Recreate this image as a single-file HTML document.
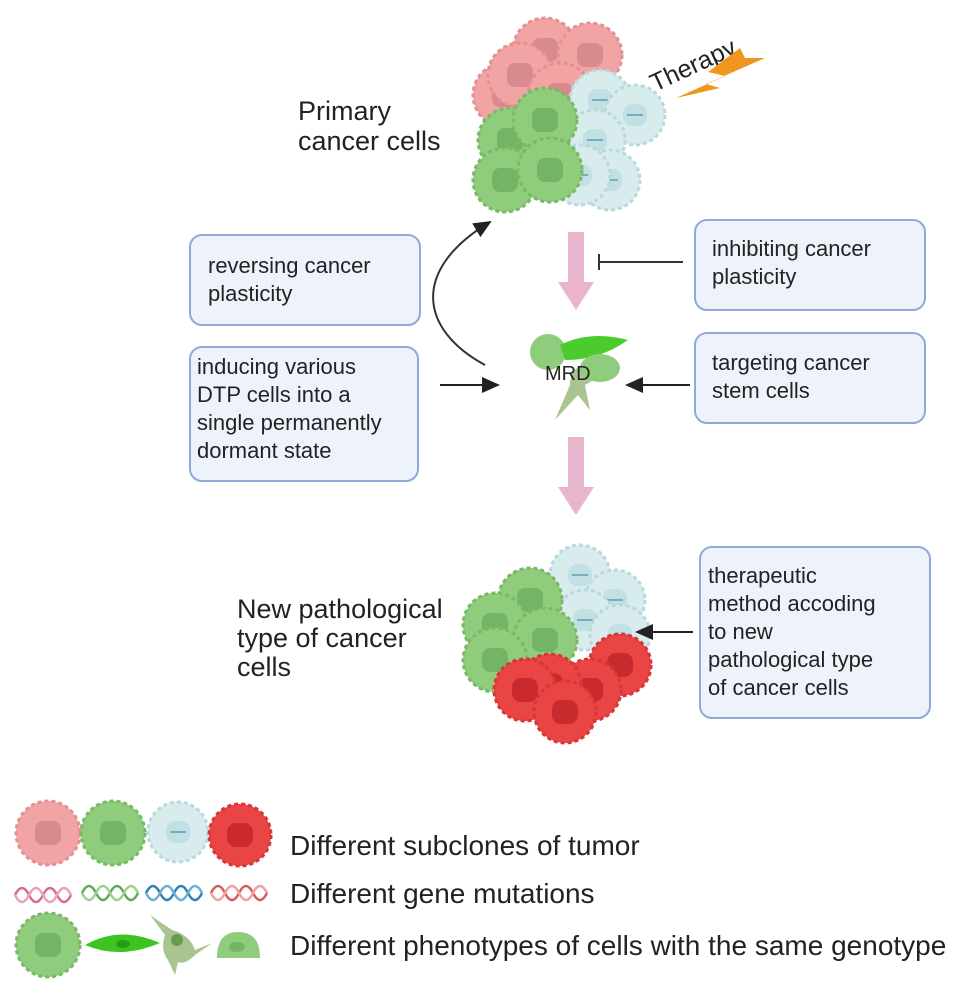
<!DOCTYPE html>
<html><head><meta charset="utf-8"><style>
body{margin:0;background:#fff}
svg text{font-family:"Liberation Sans",sans-serif;fill:#222}
</style></head><body>
<svg width="969" height="989" viewBox="0 0 969 989" xmlns="http://www.w3.org/2000/svg">
<defs>
<g id="pk"><circle r="32" fill="#f2a3a3" stroke="#e39090" stroke-width="3" stroke-dasharray="4 3"/><rect x="-13" y="-12" width="26" height="24" rx="8" fill="#d98a8e"/></g>
<g id="gr"><circle r="32" fill="#8fcc7c" stroke="#79b866" stroke-width="3" stroke-dasharray="4 3"/><rect x="-13" y="-12" width="26" height="24" rx="8" fill="#74b465"/></g>
<g id="bl"><circle r="30" fill="#d9eced" stroke="#b9d9dc" stroke-width="3" stroke-dasharray="4 3"/><rect x="-12" y="-11" width="24" height="22" rx="9" fill="#c2e0e3"/><line x1="-8" y1="0" x2="8" y2="0" stroke="#5a9fb0" stroke-width="1.5"/></g>
<g id="rd"><circle r="31" fill="#e94545" stroke="#d83535" stroke-width="3" stroke-dasharray="4 3"/><rect x="-13" y="-12" width="26" height="24" rx="9" fill="#c92a2e"/></g>
<marker id="ah" markerWidth="10" markerHeight="10" refX="8" refY="5" orient="auto"><path d="M0,1 L9,5 L0,9 Z" fill="#222"/></marker>
</defs>

<!-- top cluster -->
<use href="#pk" x="505" y="95"/><use href="#pk" x="545" y="50"/><use href="#pk" x="590" y="55"/><use href="#pk" x="520" y="75"/><use href="#pk" x="560" y="95"/>
<use href="#bl" x="600" y="100"/><use href="#bl" x="635" y="115"/><use href="#bl" x="595" y="140"/><use href="#bl" x="610" y="180"/><use href="#bl" x="580" y="175"/>
<use href="#gr" x="510" y="140"/><use href="#gr" x="545" y="120"/><use href="#gr" x="505" y="180"/><use href="#gr" x="550" y="170"/>

<text x="298" y="120" font-size="27">Primary</text>
<text x="298" y="150" font-size="27">cancer cells</text>
<text x="655" y="92" font-size="25" transform="rotate(-25 655 92)">Therapy</text>
<path d="M740,48 L708,72 L725,76 L676,98 L720,88 L706,84 L765,58 L745,58 Z" fill="#f0961e"/>

<!-- pink arrows -->
<path d="M568,232 h16 v50 h10 l-18,28 l-18,-28 h10 Z" fill="#e8b5cc"/>
<path d="M568,437 h16 v50 h10 l-18,28 l-18,-28 h10 Z" fill="#e8b5cc"/>

<!-- boxes -->
<g fill="#eef3fb" stroke="#8fa9d8" stroke-width="2">
<rect x="190" y="235" width="230" height="90" rx="12"/>
<rect x="695" y="220" width="230" height="90" rx="12"/>
<rect x="190" y="347" width="228" height="134" rx="12"/>
<rect x="695" y="333" width="230" height="90" rx="12"/>
<rect x="700" y="547" width="230" height="171" rx="12"/>
</g>
<g font-size="22">
<text x="208" y="273">reversing cancer</text><text x="208" y="301">plasticity</text>
<text x="712" y="256">inhibiting cancer</text><text x="712" y="284">plasticity</text>
<text x="197" y="374">inducing various</text><text x="197" y="402">DTP cells into a</text><text x="197" y="430">single permanently</text><text x="197" y="458">dormant state</text>
<text x="712" y="370">targeting cancer</text><text x="712" y="398">stem cells</text>
<text x="708" y="583">therapeutic</text><text x="708" y="611">method accoding</text><text x="708" y="639">to new</text><text x="708" y="667">pathological type</text><text x="708" y="695">of cancer cells</text>
</g>

<!-- connectors -->
<path d="M485,365 C420,330 410,270 490,222" fill="none" stroke="#333" stroke-width="2" marker-end="url(#ah)"/>
<line x1="683" y1="262" x2="600" y2="262" stroke="#333" stroke-width="2"/>
<line x1="599" y1="254" x2="599" y2="270" stroke="#333" stroke-width="2"/>
<line x1="440" y1="385" x2="498" y2="385" stroke="#222" stroke-width="2" marker-end="url(#ah)"/>
<line x1="690" y1="385" x2="627" y2="385" stroke="#222" stroke-width="2" marker-end="url(#ah)"/>

<!-- MRD cells -->
<circle cx="548" cy="352" r="18" fill="#8fcc7c"/>
<path d="M560,345 Q590,330 628,340 Q600,360 565,360 Z" fill="#4ccc2c"/>
<path d="M570,385 L555,420 L578,395 L590,410 L585,385 Q605,375 590,365 Q570,365 570,385 Z" fill="#a9c58f"/>
<ellipse cx="600" cy="368" rx="20" ry="14" fill="#8fcc7c"/>
<text x="545" y="380" font-size="20">MRD</text>

<!-- bottom cluster -->
<use href="#bl" x="580" y="575"/><use href="#bl" x="615" y="600"/><use href="#bl" x="585" y="620"/><use href="#bl" x="620" y="635"/>
<use href="#gr" x="530" y="600"/><use href="#gr" x="495" y="625"/><use href="#gr" x="545" y="640"/><use href="#gr" x="495" y="660"/>
<use href="#rd" x="620" y="665"/><use href="#rd" x="590" y="690"/><use href="#rd" x="550" y="685"/><use href="#rd" x="525" y="690"/><use href="#rd" x="565" y="712"/>
<line x1="693" y1="632" x2="637" y2="632" stroke="#222" stroke-width="2" marker-end="url(#ah)"/>
<text x="237" y="618" font-size="27">New pathological</text>
<text x="237" y="647" font-size="27">type of cancer</text>
<text x="237" y="676" font-size="27">cells</text>

<!-- legend -->
<use href="#pk" x="48" y="833"/><use href="#gr" x="113" y="833"/><use href="#bl" x="178" y="832"/><use href="#rd" x="240" y="835"/>
<g fill="none" stroke-width="2.5">
<path d="M15,895 q7,-14 14,0 t14,0 t14,0 t14,0" stroke="#d46c8e"/><path d="M15,895 q7,14 14,0 t14,0 t14,0 t14,0" stroke="#e8a0b8"/>
<path d="M82,893 q7,-14 14,0 t14,0 t14,0 t14,0" stroke="#5da75a"/><path d="M82,893 q7,14 14,0 t14,0 t14,0 t14,0" stroke="#9ccf90"/>
<path d="M146,893 q7,-14 14,0 t14,0 t14,0 t14,0" stroke="#2f7fb5"/><path d="M146,893 q7,14 14,0 t14,0 t14,0 t14,0" stroke="#6aaed6"/>
<path d="M211,893 q7,-14 14,0 t14,0 t14,0 t14,0" stroke="#d85a5a"/><path d="M211,893 q7,14 14,0 t14,0 t14,0 t14,0" stroke="#f0a0a0"/>
</g>
<use href="#gr" x="48" y="945"/>
<path d="M85,945 Q120,925 160,943 Q120,960 85,945 Z" fill="#3dc421"/><ellipse cx="123" cy="944" rx="7" ry="4" fill="#2a9a18"/>
<path d="M150,915 L172,930 Q190,935 195,950 L212,943 L195,955 Q185,965 178,962 L175,975 L168,960 Q160,950 165,935 Z" fill="#a9c58f"/><circle cx="177" cy="940" r="6" fill="#6a9a50"/>
<path d="M217,958 Q217,932 238,932 Q260,932 260,958 Z" fill="#8fcc7c"/><ellipse cx="237" cy="947" rx="8" ry="5" fill="#74b465"/>
<g font-size="28">
<text x="290" y="855">Different subclones of tumor</text>
<text x="290" y="903">Different gene mutations</text>
<text x="290" y="955">Different phenotypes of cells with the same genotype</text>
</g>
</svg>
</body></html>
